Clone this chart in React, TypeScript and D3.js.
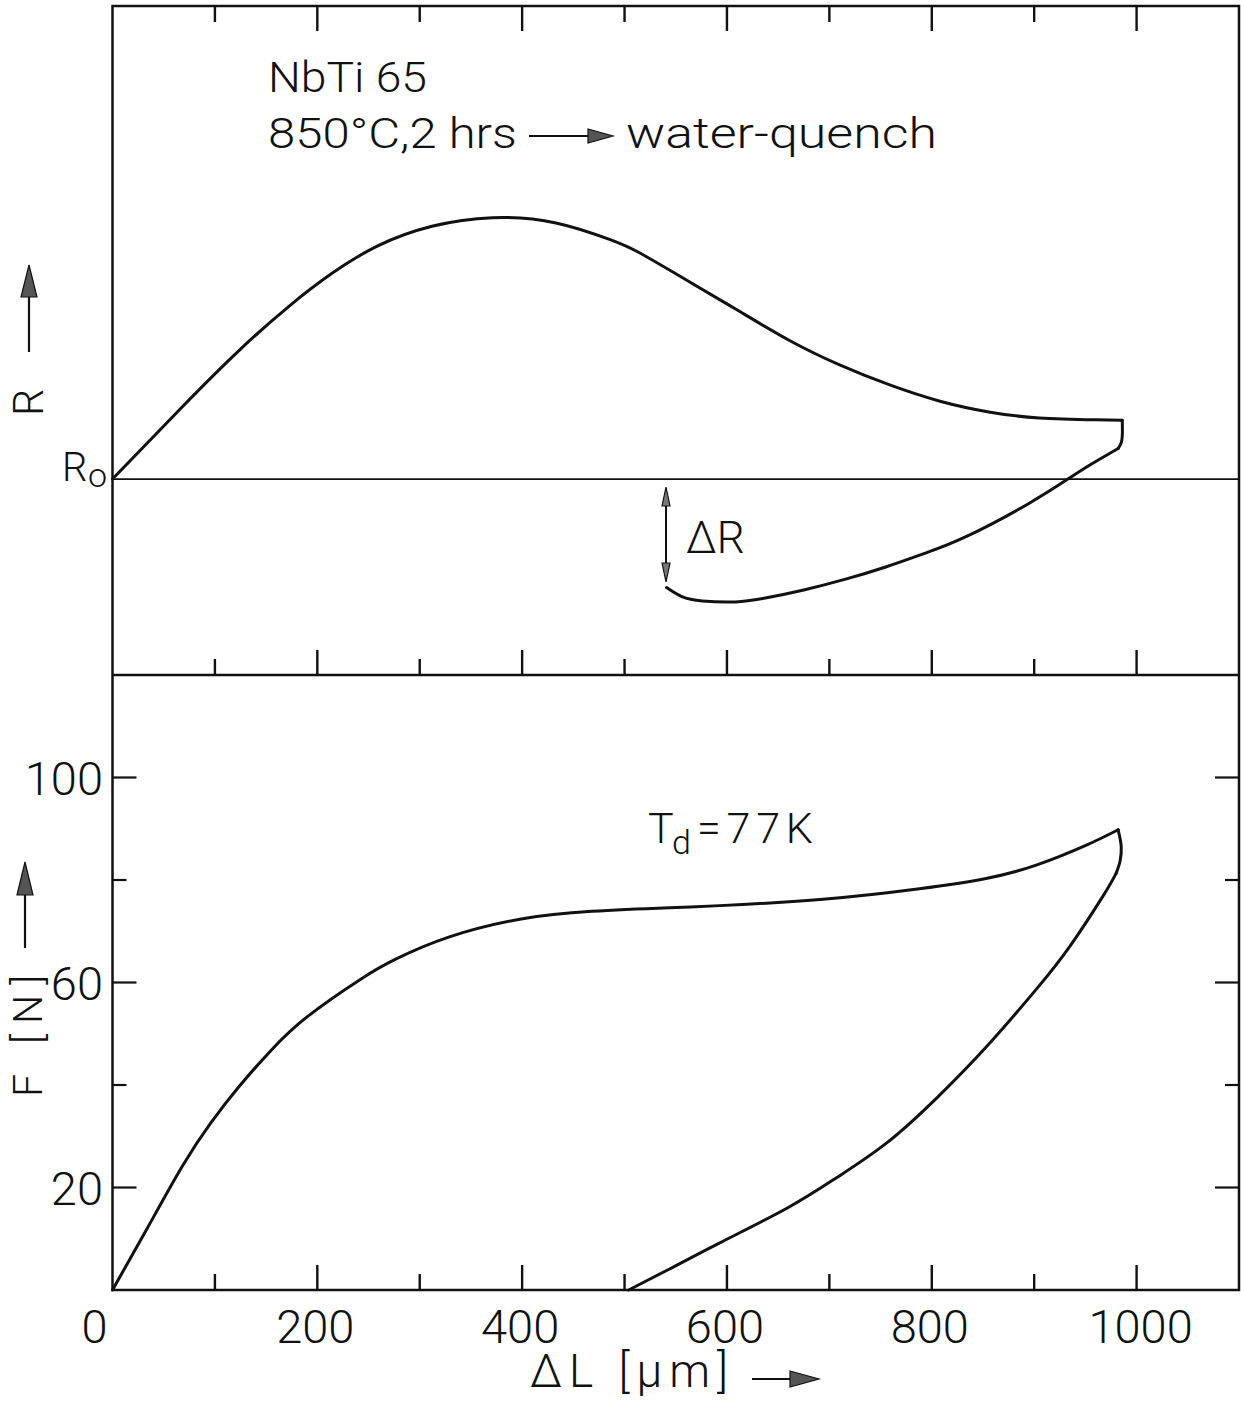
import React from 'react';
import * as d3 from 'd3';

// Upper panel: relative resistance R (arbitrary units, R0 = 0) vs elongation ΔL [µm]
const rLoadDL = [0, 68, 124, 172, 214, 259, 312, 371, 433, 486, 515, 564, 613, 662, 710, 759, 808, 857, 905, 960, 986];
const rLoadR = [0, 15.1, 27.0, 36.1, 43.0, 48.8, 52.9, 54.7, 53.6, 50.1, 47.3, 41.2, 35.0, 28.9, 23.9, 19.7, 16.3, 14.0, 12.8, 12.4, 12.3];
const rTurnDL = [986, 986, 985, 982];
const rTurnR = [12.3, 9.0, 7.6, 6.4];
const rUnloadDL = [541, 556, 576, 608, 635, 675, 715, 755, 795, 835, 894, 934, 954, 982];
const rUnloadR = [-22.7, -24.6, -25.5, -25.7, -25.0, -23.2, -21.0, -18.4, -15.4, -11.9, -5.2, 0.15, 2.9, 6.4];

// Lower panel: force F [N] vs ΔL [µm]
const fLoadDL = [0, 33, 68, 96, 124, 155, 190, 242, 277, 329, 399, 468, 544, 593, 691, 788, 853, 902, 951, 982];
const fLoadF = [0, 11.7, 24.1, 32.6, 39.8, 46.8, 53.3, 60.6, 64.6, 68.9, 72.4, 73.9, 74.6, 75.0, 76.2, 78.3, 80.3, 82.9, 86.8, 89.8];
const fTurnDL = [982, 985, 984, 980];
const fTurnF = [89.8, 86.5, 83.8, 81.3];
const fUnloadDL = [504, 544, 593, 659, 707, 756, 805, 854, 903, 935, 967, 980];
const fUnloadF = [0, 4.1, 9.2, 16.0, 21.9, 28.7, 37.5, 47.6, 58.9, 67.1, 76.8, 81.3];

const xTicks = [100, 200, 300, 400, 500, 600, 700, 800, 900, 1000];
const xTickLabels = ['0', '200', '400', '600', '800', '1000'];
const fTicks = [20, 40, 60, 80, 100];
const fTickLabels = ['20', '60', '100'];

const FONT = "Roboto, 'DejaVu Sans', sans-serif";

export default function App() {
  const W = 1241, H = 1402;
  const x = d3.scaleLinear().domain([0, 1100]).range([112.5, 1239]);
  const yR = d3.scaleLinear().domain([-41, 99]).range([675, 6]);
  const yF = d3.scaleLinear().domain([0, 120]).range([1290, 675]);

  const zip = (a: number[], b: number[]) => a.map((v, i) => [v, b[i]] as [number, number]);
  const smooth = d3.curveNatural;
  const turn = d3.curveCatmullRom.alpha(0.5);
  const lineR = (c: any) => d3.line<[number, number]>().x(d => x(d[0])).y(d => yR(d[1])).curve(c);
  const lineF = (c: any) => d3.line<[number, number]>().x(d => x(d[0])).y(d => yF(d[1])).curve(c);

  const left = x(0), right = x(1100), top = yR(99), mid = yF(120), bottom = yF(0);
  const isMajor = (v: number) => v % 200 === 0;
  const isMajorF = (v: number) => v % 40 === 20;

  const txt = { fontFamily: FONT, fontWeight: 300, fill: '#111' } as const;
  const curve = { fill: 'none', stroke: '#111', strokeWidth: 3, strokeLinejoin: 'round' as const, strokeLinecap: 'round' as const };

  return (
    <svg width={W} height={H} style={{ position: 'absolute', left: 0, top: 0, background: '#fff' }}>
      {/* frame */}
      <rect x={left} y={top} width={right - left} height={bottom - top} fill="none" stroke="#111" strokeWidth={2.5} />
      <line x1={left} x2={right} y1={mid} y2={mid} stroke="#111" strokeWidth={2.5} />
      <line x1={left} x2={right} y1={yR(0)} y2={yR(0)} stroke="#111" strokeWidth={1.6} />

      {/* x ticks: top edge (down), middle (up), bottom (up) */}
      {xTicks.map(v => {
        const L = isMajor(v) ? 25 : 16;
        return (
          <g key={v} stroke="#111" strokeWidth={2.4}>
            <line x1={x(v)} x2={x(v)} y1={top} y2={top + L} />
            <line x1={x(v)} x2={x(v)} y1={mid} y2={mid - L} />
            <line x1={x(v)} x2={x(v)} y1={bottom} y2={bottom - L} />
          </g>
        );
      })}
      {/* F ticks left and right */}
      {fTicks.map(v => {
        const L = isMajorF(v) ? 24 : 14;
        return (
          <g key={v} stroke="#111" strokeWidth={2.2}>
            <line x1={left} x2={left + L} y1={yF(v)} y2={yF(v)} />
            <line x1={right} x2={right - L} y1={yF(v)} y2={yF(v)} />
          </g>
        );
      })}

      {/* curves */}
      <path d={lineR(smooth)(zip(rLoadDL, rLoadR)) || ''} {...curve} />
      <path d={lineR(turn)(zip(rTurnDL, rTurnR)) || ''} {...curve} />
      <path d={lineR(smooth)(zip(rUnloadDL, rUnloadR)) || ''} {...curve} />
      <path d={lineF(smooth)(zip(fLoadDL, fLoadF)) || ''} {...curve} />
      <path d={lineF(turn)(zip(fTurnDL, fTurnF)) || ''} {...curve} />
      <path d={lineF(smooth)(zip(fUnloadDL, fUnloadF)) || ''} {...curve} />

      {/* x tick labels */}
      {xTickLabels.map(s => {
        const v = +s;
        return (
          <text key={s} x={x(v) + (v === 0 ? -18 : v === 1000 ? 4 : -2)} y={1343} textAnchor="middle" fontSize={47} {...txt}>{s}</text>
        );
      })}
      {/* F tick labels */}
      {fTickLabels.map(s => (
        <text key={s} x={103} y={yF(+s) + 17} textAnchor="end" fontSize={47} {...txt}>{s}</text>
      ))}

      {/* annotations top */}
      <text x={268} y={92} fontSize={43} textLength={159} lengthAdjust="spacingAndGlyphs" {...txt}>NbTi 65</text>
      <text x={268} y={148} fontSize={43} textLength={249} lengthAdjust="spacingAndGlyphs" {...txt}>850°C,2 hrs</text>
      <line x1={529} x2={592} y1={136} y2={136} stroke="#111" strokeWidth={2.2} />
      <polygon points="588,129 613,136 588,143" fill="#555" stroke="#111" strokeWidth={1.2} />
      <text x={626} y={148} fontSize={43} textLength={311} lengthAdjust="spacingAndGlyphs" {...txt}>water-quench</text>

      {/* R0 */}
      <text x={62} y={481} fontSize={40} {...txt}>R</text>
      <text x={88} y={487} fontSize={34} {...txt}>o</text>

      {/* R axis label + arrow */}
      <text transform="translate(43,416) rotate(-90)" fontSize={43} {...txt}>R</text>
      <line x1={29} x2={29} y1={352} y2={295} stroke="#111" strokeWidth={2.2} />
      <polygon points="21,297 29,265 37,297" fill="#555" stroke="#111" strokeWidth={1.2} />

      {/* ΔR */}
      <line x1={666} x2={666} y1={489} y2={580} stroke="#111" strokeWidth={2} />
      <polygon points="662,506 666,487 670,506" fill="#777" stroke="#111" strokeWidth={1.2} />
      <polygon points="662,563 666,582 670,563" fill="#777" stroke="#111" strokeWidth={1.2} />
      <text x={686} y={553} fontSize={44} {...txt}>ΔR</text>

      {/* Td = 77K */}
      <text x={648} y={843} fontSize={43} {...txt}>T</text>
      <text x={672} y={854} fontSize={34} {...txt}>d</text>
      <text x={697} y={843} fontSize={43} textLength={116} lengthAdjust="spacing" {...txt}>=77K</text>

      {/* F axis label + arrow */}
      <text transform="translate(42,1097) rotate(-90)" fontSize={41} textLength={122} lengthAdjust="spacing" {...txt}>F [N]</text>
      <line x1={25} x2={25} y1={948} y2={893} stroke="#111" strokeWidth={2.2} />
      <polygon points="17,895 25,862 33,895" fill="#555" stroke="#111" strokeWidth={1.2} />

      {/* x axis label + arrow */}
      <text x={530} y={1387} fontSize={46} textLength={198} lengthAdjust="spacing" {...txt}>ΔL [µm]</text>
      <line x1={752} x2={792} y1={1379} y2={1379} stroke="#111" strokeWidth={2.2} />
      <polygon points="790,1371 819,1379 790,1387" fill="#555" stroke="#111" strokeWidth={1.2} />
    </svg>
  );
}
